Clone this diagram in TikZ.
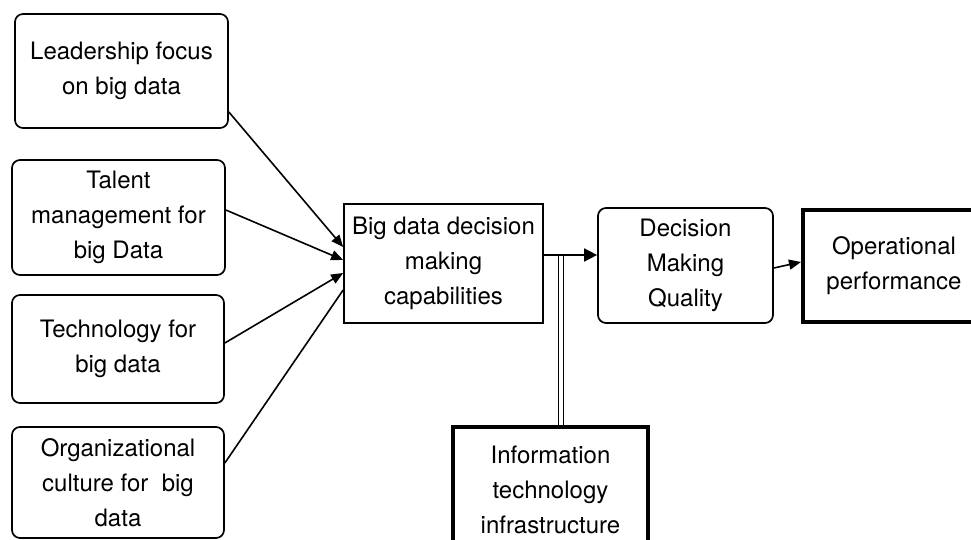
\documentclass[tikz,border=0pt]{standalone}
\usepackage{fontspec}
\setmainfont{TeX Gyre Heros}
\usetikzlibrary{arrows.meta}

\tikzstyle{input box}=[draw, rounded corners=4pt, line width=0.85pt, align=center, inner sep=0pt, font=\fontsize{12}{17.5}\selectfont]
\tikzstyle{core box}=[input box, rounded corners=0pt]
\tikzstyle{bold box}=[input box, rounded corners=0pt, line width=2pt]
\tikzstyle{feed}=[line width=0.8pt, -{Triangle[length=6pt, width=5pt]}]
\tikzstyle{big feed}=[line width=0.8pt, -{Triangle[length=6.5pt, width=6.5pt]}]

\begin{document}
\begin{tikzpicture}[x=0.5pt, y=-0.5pt]
		\useasboundingbox (0,0) rectangle (971,540);
		\node [input box, minimum width=106.5pt, minimum height=57pt] (lead) at (121.5,71) {Leadership focus\\on big data};
		\node [input box, minimum width=106.5pt, minimum height=57.5pt] (talent) at (118.5,217.5) {Talent\\management for\\big Data};
		\node [input box, minimum width=106pt, minimum height=54pt] (tech) at (118,349) {Technology for\\big data};
		\node [input box, minimum width=106pt, minimum height=55.5pt] (org) at (118,482.5) {Organizational\\culture for\ \ big\\data};
		\node [core box, minimum width=99.5pt, minimum height=59.5pt] (bdd) at (443.5,263.5) {Big data decision\\making\\capabilities};
		\node [input box, minimum width=87.5pt, minimum height=57.5pt] (dmq) at (685.5,265.5) {Decision\\Making\\Quality};
		\node [bold box, minimum width=91pt, minimum height=56pt] (perf) at (894,266) {Operational\\performance};
		\node [bold box, minimum width=97.5pt, minimum height=63pt] (itinfra) at (550.5,490) {Information\\technology\\infrastructure};
		\coordinate (meet) at (561,256);

		\draw [feed] ([yshift=-20.5pt]lead.east) -- ([yshift=8.25pt]bdd.west);
		\draw [feed] ([yshift=3.75pt]talent.east) -- ([yshift=1.75pt]bdd.west);
		\draw [feed] ([yshift=3pt]tech.east) -- ([yshift=-4.75pt]bdd.west);
		\draw [line width=0.8pt] ([yshift=9.75pt]org.east) -- ([yshift=-13.25pt]bdd.west);
		\draw [big feed] ([yshift=4.25pt]bdd.east) -- ([yshift=5.25pt]dmq.west);
		\draw [feed] ([yshift=-1.25pt]dmq.east) -- ([yshift=2pt]perf.west);
		\draw [double, double distance=2pt, line width=0.45pt] ([xshift=5.25pt]itinfra.north) -- (meet);
	\end{tikzpicture}
\end{document}
